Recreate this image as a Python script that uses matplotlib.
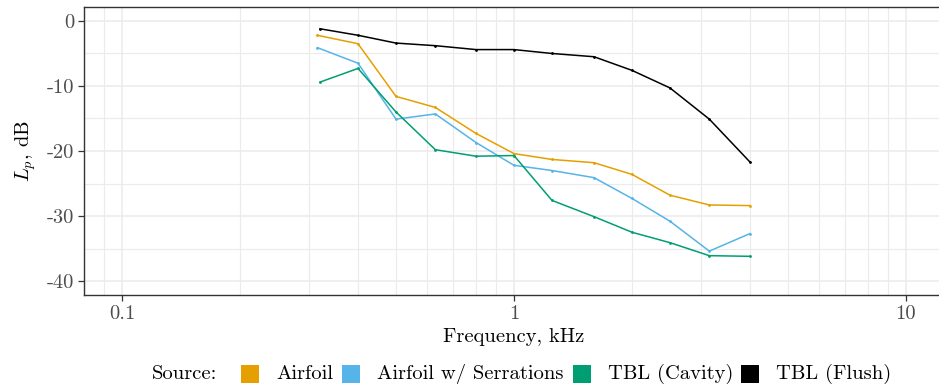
import numpy as np
import matplotlib
matplotlib.use("Agg")
import matplotlib.pyplot as plt
from matplotlib.patches import Rectangle
from matplotlib.ticker import FixedLocator, NullFormatter

plt.rcParams["font.family"] = ["cmr10", "DejaVu Serif"]
plt.rcParams["mathtext.fontset"] = "cm"
plt.rcParams["axes.unicode_minus"] = False

# third-octave band centres, kHz
freq_airfoil = [0.315, 0.4, 0.5, 0.63, 0.8, 1.0, 1.25, 1.6, 2.0, 2.5, 3.15, 4.0]
freq_tbl = [0.32, 0.4, 0.5, 0.63, 0.8, 1.0, 1.25, 1.6, 2.0, 2.5, 3.15, 4.0]

lp_airfoil = [-2.2, -3.5, -11.6, -13.3, -17.3, -20.4, -21.3, -21.8, -23.6, -26.8, -28.3, -28.4]
lp_serrated = [-4.1, -6.5, -15.1, -14.3, -18.7, -22.2, -23.0, -24.1, -27.3, -30.8, -35.4, -32.7]
lp_cavity = [-9.4, -7.3, -14.0, -19.8, -20.8, -20.7, -27.6, -30.1, -32.5, -34.1, -36.1, -36.2]
lp_flush = [-1.2, -2.2, -3.4, -3.8, -4.4, -4.4, -5.0, -5.5, -7.6, -10.3, -15.1, -21.7]

sources = ["Airfoil", "Airfoil w/ Serrations", "TBL (Cavity)", "TBL (Flush)"]
colors = ["#E69F00", "#56B4E9", "#009E73", "#000000"]
series = [(freq_airfoil, lp_airfoil), (freq_airfoil, lp_serrated),
          (freq_tbl, lp_cavity), (freq_tbl, lp_flush)]

y_ticks = [0, -10, -20, -30, -40]
x_ticks = [0.1, 1, 10]
x_tick_labels = ["0.1", "1", "10"]

FS = 14.8
W, H = 939, 388
fig = plt.figure(figsize=(W / 100, H / 100), dpi=100)
ax = fig.add_axes([84 / W, 93 / H, (944 - 84) / W, 288 / H])

for (f, lp), c in zip(series, colors):
    ax.plot(f, lp, color=c, lw=1.1, marker="o", ms=1.0, zorder=3)

ax.set_xscale("log")
ax.set_xlim(10 ** -1.097, 10 ** 1.097)
ax.set_ylim(-42.15, 2.15)

# grid: decades major, 2..9 minor
minor_x = [m * 10.0 ** e for e in (-2, -1, 0, 1) for m in range(2, 10)]
ax.xaxis.set_major_locator(FixedLocator(x_ticks))
ax.xaxis.set_minor_locator(FixedLocator(minor_x))
ax.xaxis.set_minor_formatter(NullFormatter())
ax.set_xticklabels(x_tick_labels)
ax.yaxis.set_major_locator(FixedLocator(y_ticks))
ax.yaxis.set_minor_locator(FixedLocator([-35, -25, -15, -5]))
ax.set_yticklabels([str(v) for v in y_ticks])

ax.grid(True, which="major", color="#EBEBEB", lw=1.1, zorder=0)
ax.grid(True, which="minor", color="#EBEBEB", lw=0.8, zorder=0)
ax.set_axisbelow(True)

ax.tick_params(which="major", length=4, width=0.9, color="#333333",
               labelcolor="#4D4D4D", labelsize=FS, pad=3)
ax.tick_params(which="minor", length=0)
for s in ax.spines.values():
    s.set_color("#333333")
    s.set_linewidth(1.0)

ax.set_xlabel("Frequency, kHz", fontsize=FS, labelpad=4)
ax.set_ylabel("$L_p$, dB", fontsize=FS, labelpad=6)

# legend along the bottom
ly = 374
fig.text(152 / W, 1 - ly / H, "Source:", fontsize=FS, va="center", ha="left")
key_x = [241, 342, 573, 741]
for kx, c, name in zip(key_x, colors, sources):
    fig.patches.append(Rectangle((kx / W, 1 - (ly + 9) / H), 18 / W, 18 / H,
                                 transform=fig.transFigure, color=c, lw=0))
    fig.text((kx + 35) / W, 1 - ly / H, name, fontsize=FS, va="center", ha="left")

fig.savefig("out.png", dpi=100)
